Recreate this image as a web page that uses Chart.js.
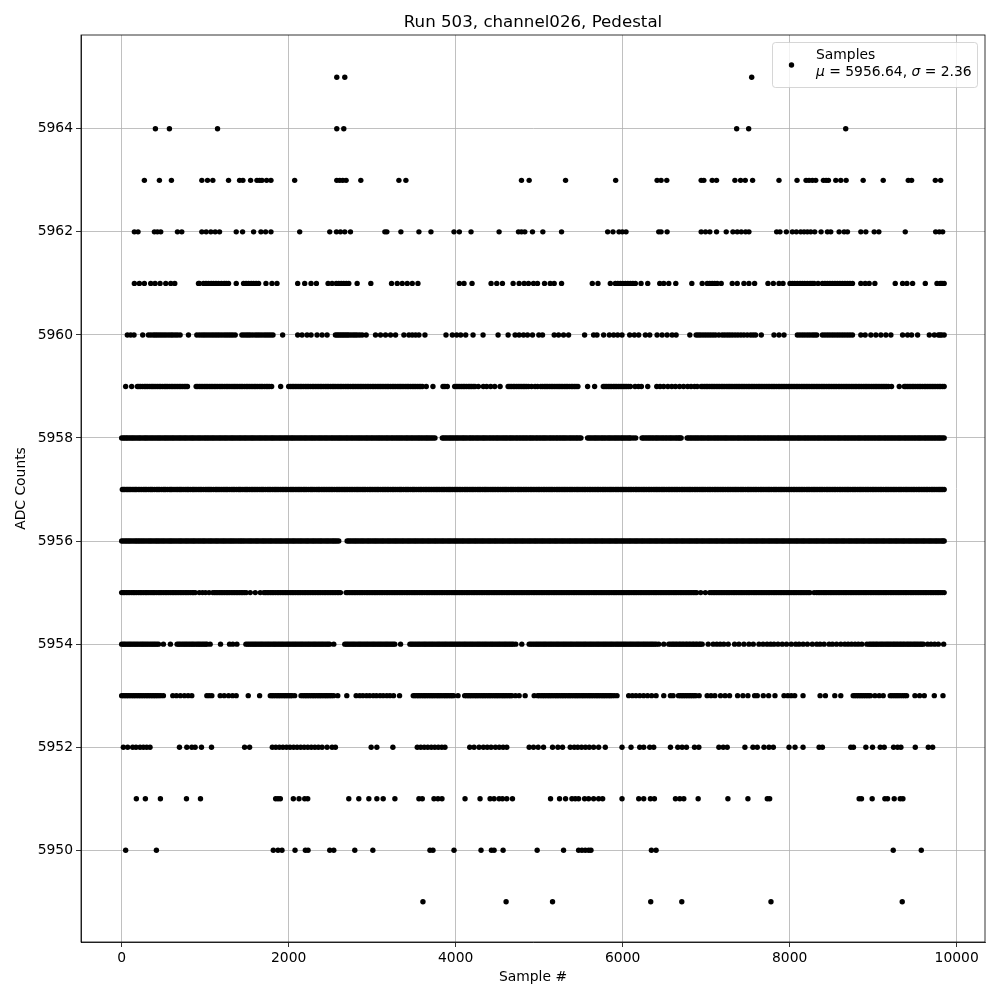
<!DOCTYPE html>
<html>
<head>
<meta charset="utf-8">
<title>Run 503, channel026, Pedestal</title>
<script src="https://cdn.jsdelivr.net/npm/chart.js@4/dist/chart.umd.min.js"></script>
<style>
    body { margin: 0; background: #fff; }
    canvas { display: block; }
</style>
</head>
<body>
<canvas id="pedestalChart" width="1000" height="1000"></canvas>
<script>
/* Pedestal scatter, sample numbers */

const xTickValues = [0, 2000, 4000, 6000, 8000, 10000];
const yTickValues = [5950, 5952, 5954, 5956, 5958, 5960, 5962, 5964];

const samples5965 = [2576, 2672, 7545];
const samples5964 = [404, 572, 1148, 2576, 2660, 7365, 7509, 8671];
const samples5963 = [272, 452, 596, 960, 1028, 1092, 1280, 1412, 1452, 1544, 1620, 1652, 1680, 1736, 1788, 2072, 2576, 2612, 2648, 2688, 2864, 3320, 3404, 4788, 4880, 5316, 5916, 6412, 6460, 6528, 6940, 6972, 7072, 7124, 7344, 7412, 7468, 7556, 7872, 8088, 8196, 8232, 8272, 8312, 8404, 8436, 8464, 8552, 8612, 8676, 8880, 9120, 9420, 9460, 9744, 9808];
const samples5962 = [152, 196, 392, 428, 468, 668, 720, 960, 1012, 1068, 1120, 1172, 1372, 1448, 1580, 1668, 1724, 1788, 2132, 2492, 2572, 2620, 2672, 2740, 3152, 3176, 3344, 3560, 3704, 3980, 4044, 4184, 4520, 4752, 4788, 4828, 4920, 5044, 5268, 5820, 5884, 5956, 5996, 6040, 6432, 6460, 6532, 6940, 6992, 7044, 7124, 7240, 7320, 7372, 7420, 7472, 7512, 7844, 7884, 7960, 8032, 8080, 8132, 8172, 8212, 8252, 8300, 8376, 8452, 8492, 8592, 8652, 8692, 8852, 8912, 9012, 9068, 9384, 9748, 9792, 9832];
const samples5961 = [152, 212, 272, 348, 400, 460, 528, 588, 636, 920, 980, 1040, 1100, 1160, 1228, 1280, 1372, 1460, 1520, 1580, 1640, 1728, 1800, 1860, 2108, 2192, 2268, 2332, 2472, 2520, 2600, 2660, 2720, 2820, 2984, 3232, 3300, 3360, 3420, 3480, 3548, 4044, 4100, 4196, 4424, 4492, 4560, 4688, 4760, 4820, 4872, 4932, 4980, 5064, 5132, 5180, 5268, 5636, 5704, 5852, 5912, 5972, 6032, 6092, 6152, 6220, 6300, 6444, 6492, 6552, 6636, 6828, 6952, 7012, 7072, 7132, 7180, 7312, 7372, 7452, 7512, 7580, 7740, 7804, 7872, 7920, 8004, 8060, 8124, 8180, 8244, 8292, 8340, 8392, 8452, 8512, 8572, 8632, 8692, 8752, 8852, 8904, 8952, 9020, 9264, 9352, 9404, 9472, 9624, 9764, 9804, 9850];
const extra5961 = [930, 1010, 1072, 1130, 1194, 1252, 1490, 1552, 1610, 2570, 2630, 2690, 5942, 6002, 6062, 6122, 7042, 7102, 8032, 8092, 8152, 8212, 8268, 8422, 8482, 8542, 8602, 8662, 8722, 9824];
const samples5960 = [68, 108, 148, 252, 320, 380, 428, 480, 532, 588, 640, 700, 800, 900, 960, 1012, 1068, 1120, 1172, 1228, 1280, 1332, 1360, 1440, 1492, 1540, 1600, 1652, 1708, 1760, 1812, 1928, 2108, 2160, 2220, 2268, 2340, 2400, 2460, 2560, 2600, 2640, 2680, 2720, 2772, 2820, 2880, 2928, 3040, 3100, 3160, 3220, 3280, 3380, 3440, 3480, 3520, 3560, 3632, 3884, 3960, 4012, 4060, 4120, 4208, 4328, 4508, 4628, 4712, 4760, 4812, 4860, 4920, 4996, 5040, 5180, 5232, 5292, 5352, 5544, 5652, 5692, 5772, 5840, 5892, 5940, 5992, 6084, 6140, 6192, 6272, 6324, 6412, 6472, 6532, 6592, 6640, 6804, 6880, 6932, 6992, 7052, 7112, 7192, 7252, 7312, 7380, 7452, 7532, 7592, 7660, 7812, 7872, 7932, 8092, 8152, 8212, 8272, 8324, 8392, 8452, 8512, 8572, 8632, 8692, 8752, 8852, 8904, 8972, 9032, 9092, 9152, 9212, 9352, 9412, 9460, 9532, 9672, 9732, 9780, 9820, 9850];
const extra5960 = [350, 404, 454, 506, 560, 612, 668, 930, 986, 1040, 1094, 1146, 1200, 1254, 1306, 1466, 1516, 1570, 1626, 1680, 1734, 1786, 2580, 2620, 2660, 2700, 2746, 2796, 2850, 6906, 6962, 7022, 7082, 7152, 7222, 7282, 7346, 7416, 7492, 7562, 8122, 8182, 8242, 8298, 8422, 8482, 8542, 8602, 8662, 8722, 9800];
const samples5959 = [48, 120, 188, 226, 271, 309, 352, 388, 431, 469, 513, 548, 592, 629, 671, 709, 752, 788, 892, 931, 972, 1011, 1052, 1091, 1129, 1172, 1209, 1251, 1288, 1332, 1369, 1411, 1448, 1491, 1529, 1571, 1608, 1652, 1687, 1731, 1768, 1796, 1904, 2000, 2041, 2079, 2122, 2158, 2201, 2239, 2282, 2319, 2361, 2398, 2441, 2478, 2521, 2557, 2601, 2638, 2681, 2718, 2762, 2799, 2841, 2878, 2921, 2959, 3002, 3039, 3081, 3119, 3162, 3198, 3241, 3279, 3321, 3359, 3402, 3438, 3481, 3519, 3562, 3601, 3648, 3728, 3848, 3871, 3900, 3988, 4028, 4071, 4109, 4152, 4189, 4231, 4272, 4331, 4371, 4419, 4468, 4532, 4628, 4669, 4708, 4749, 4791, 4829, 4872, 4909, 4951, 4980, 5020, 5062, 5101, 5143, 5181, 5224, 5262, 5303, 5341, 5384, 5422, 5464, 5580, 5664, 5768, 5809, 5848, 5889, 5928, 5969, 6008, 6049, 6092, 6148, 6189, 6224, 6300, 6408, 6448, 6491, 6541, 6588, 6632, 6681, 6729, 6778, 6819, 6861, 6892, 6940, 6981, 7019, 7061, 7099, 7141, 7182, 7219, 7261, 7299, 7342, 7381, 7421, 7459, 7502, 7541, 7579, 7622, 7659, 7701, 7741, 7781, 7819, 7862, 7899, 7941, 7982, 8019, 8061, 8099, 8142, 8181, 8219, 8262, 8301, 8339, 8382, 8419, 8461, 8499, 8541, 8582, 8619, 8662, 8699, 8741, 8782, 8821, 8859, 8902, 8939, 8981, 9022, 9059, 9102, 9141, 9182, 9220, 9312, 9372, 9409, 9451, 9488, 9531, 9569, 9612, 9649, 9691, 9729, 9772, 9808, 9850];
const extra5959 = [207, 248, 290, 330, 370, 410, 450, 491, 530, 570, 610, 650, 690, 731, 770, 911, 951, 992, 1031, 1071, 1110, 1150, 1190, 1230, 1270, 1310, 1350, 1390, 1430, 1470, 1510, 1550, 1590, 1630, 1670, 1710, 1750, 2020, 2060, 2100, 2140, 2180, 2220, 2260, 2300, 2340, 2380, 2420, 2460, 2500, 2540, 2580, 2620, 2660, 2700, 2740, 2780, 2820, 2860, 2900, 2940, 2980, 3020, 3060, 3100, 3140, 3180, 3220, 3260, 3300, 3340, 3380, 3420, 3460, 3500, 3540, 3582, 4008, 4050, 4090, 4130, 4170, 4210, 4650, 4690, 4730, 4770, 4810, 4850, 5040, 5082, 5122, 5162, 5202, 5242, 5282, 5322, 5362, 5402, 5442, 5788, 5828, 5868, 5908, 5948, 5988, 6028, 6070, 6960, 7000, 7040, 7080, 7120, 7160, 7200, 7240, 7280, 7320, 7360, 7400, 7440, 7480, 7520, 7560, 7600, 7640, 7680, 7720, 7760, 7800, 7840, 7880, 7920, 7960, 8000, 8040, 8080, 8120, 8160, 8200, 8240, 8280, 8320, 8360, 8400, 8440, 8480, 8520, 8560, 8600, 8640, 8680, 8720, 8760, 8800, 8840, 8880, 8920, 8960, 9000, 9040, 9080, 9120, 9160, 9390, 9430, 9470, 9510, 9550, 9590, 9630, 9670, 9710, 9750, 9790, 9830];
const samples5958 = [0, 38, 73, 112, 149, 191, 228, 271, 307, 349, 388, 429, 467, 509, 547, 588, 626, 668, 707, 748, 786, 829, 866, 908, 946, 988, 1027, 1068, 1106, 1148, 1187, 1228, 1266, 1309, 1346, 1388, 1427, 1468, 1507, 1549, 1586, 1628, 1667, 1708, 1747, 1789, 1826, 1868, 1907, 1948, 1987, 2029, 2066, 2108, 2148, 2189, 2227, 2268, 2307, 2349, 2387, 2428, 2467, 2509, 2548, 2589, 2627, 2668, 2707, 2748, 2788, 2829, 2867, 2909, 2947, 2988, 3028, 3069, 3107, 3148, 3187, 3229, 3268, 3308, 3347, 3389, 3427, 3468, 3508, 3549, 3587, 3629, 3667, 3708, 3752, 3840, 3879, 3921, 3959, 4001, 4039, 4081, 4119, 4162, 4199, 4241, 4279, 4322, 4359, 4401, 4441, 4482, 4519, 4561, 4601, 4642, 4679, 4722, 4761, 4801, 4841, 4882, 4919, 4962, 5001, 5041, 5079, 5122, 5161, 5202, 5241, 5281, 5319, 5362, 5401, 5442, 5481, 5500, 5580, 5619, 5661, 5699, 5741, 5779, 5822, 5859, 5901, 5941, 5982, 6019, 6062, 6099, 6156, 6232, 6271, 6312, 6351, 6392, 6429, 6471, 6511, 6552, 6589, 6632, 6669, 6700, 6772, 6811, 6852, 6891, 6932, 6971, 7012, 7049, 7092, 7131, 7171, 7212, 7249, 7291, 7331, 7372, 7409, 7452, 7491, 7531, 7571, 7612, 7649, 7692, 7731, 7771, 7811, 7852, 7889, 7932, 7971, 8011, 8051, 8092, 8129, 8172, 8211, 8251, 8291, 8332, 8369, 8412, 8451, 8491, 8531, 8572, 8609, 8652, 8691, 8731, 8771, 8812, 8849, 8892, 8931, 8971, 9011, 9052, 9089, 9132, 9171, 9211, 9251, 9292, 9329, 9372, 9411, 9451, 9491, 9532, 9569, 9612, 9651, 9691, 9731, 9772, 9809, 9850];
const extra5958 = [19, 55, 92, 131, 170, 210, 250, 289, 328, 368, 409, 448, 488, 528, 567, 607, 647, 688, 727, 767, 808, 847, 887, 927, 967, 1008, 1047, 1087, 1127, 1168, 1207, 1247, 1288, 1327, 1367, 1408, 1447, 1487, 1528, 1567, 1607, 1648, 1687, 1727, 1768, 1807, 1847, 1888, 1927, 1967, 2008, 2047, 2087, 2128, 2168, 2207, 2248, 2287, 2327, 2368, 2407, 2447, 2488, 2528, 2568, 2607, 2647, 2688, 2727, 2767, 2808, 2847, 2887, 2928, 2967, 3007, 3048, 3087, 3127, 3168, 3207, 3247, 3288, 3327, 3367, 3408, 3447, 3487, 3528, 3567, 3607, 3648, 3687, 3729, 3859, 3899, 3940, 3979, 4019, 4060, 4099, 4139, 4180, 4219, 4259, 4300, 4339, 4379, 4420, 4460, 4499, 4540, 4580, 4619, 4660, 4699, 4739, 4780, 4820, 4859, 4900, 4939, 4979, 5020, 5059, 5099, 5140, 5180, 5219, 5260, 5299, 5339, 5380, 5420, 5459, 5599, 5640, 5679, 5719, 5760, 5799, 5839, 5880, 5920, 5960, 5999, 6040, 6080, 6127, 6250, 6291, 6330, 6370, 6410, 6450, 6490, 6530, 6570, 6610, 6650, 6685, 6791, 6830, 6871, 6910, 6950, 6990, 7030, 7070, 7110, 7150, 7190, 7230, 7270, 7310, 7350, 7390, 7430, 7470, 7510, 7550, 7590, 7630, 7670, 7710, 7750, 7790, 7830, 7870, 7910, 7950, 7990, 8030, 8070, 8110, 8150, 8190, 8230, 8270, 8310, 8350, 8390, 8430, 8470, 8510, 8550, 8590, 8630, 8670, 8710, 8750, 8790, 8830, 8870, 8910, 8950, 8990, 9030, 9070, 9110, 9150, 9190, 9230, 9270, 9310, 9350, 9390, 9430, 9470, 9510, 9550, 9590, 9630, 9670, 9710, 9750, 9790, 9830];
const samples5957 = [8, 37, 71, 104, 146, 178, 219, 263, 297, 341, 372, 418, 452, 497, 529, 574, 603, 651, 689, 722, 768, 801, 846, 879, 923, 958, 1003, 1041, 1076, 1122, 1155, 1198, 1237, 1271, 1318, 1352, 1396, 1428, 1476, 1509, 1551, 1588, 1627, 1669, 1702, 1748, 1783, 1826, 1861, 1903, 1941, 1978, 2022, 2057, 2099, 2136, 2178, 2213, 2258, 2291, 2337, 2371, 2412, 2451, 2493, 2529, 2572, 2608, 2649, 2687, 2728, 2766, 2807, 2843, 2886, 2921, 2966, 3002, 3044, 3079, 3123, 3161, 3198, 3241, 3276, 3322, 3354, 3398, 3433, 3479, 3512, 3557, 3592, 3634, 3671, 3711, 3752, 3788, 3829, 3866, 3908, 3943, 3987, 4024, 4062, 4105, 4141, 4183, 4219, 4263, 4298, 4341, 4376, 4421, 4458, 4497, 4536, 4578, 4613, 4657, 4691, 4736, 4771, 4812, 4851, 4892, 4928, 4971, 5007, 5049, 5086, 5128, 5163, 5207, 5243, 5284, 5321, 5363, 5399, 5442, 5478, 5521, 5557, 5599, 5636, 5678, 5714, 5757, 5793, 5836, 5872, 5914, 5951, 5992, 6029, 6071, 6108, 6151, 6186, 6229, 6266, 6307, 6344, 6386, 6423, 6465, 6501, 6544, 6581, 6622, 6659, 6702, 6738, 6781, 6817, 6859, 6896, 6938, 6974, 7017, 7053, 7096, 7132, 7174, 7211, 7253, 7291, 7332, 7369, 7411, 7447, 7491, 7526, 7569, 7606, 7648, 7684, 7727, 7763, 7806, 7842, 7884, 7921, 7963, 8001, 8042, 8079, 8121, 8158, 8201, 8237, 8279, 8316, 8358, 8394, 8437, 8473, 8516, 8552, 8594, 8631, 8673, 8709, 8752, 8788, 8831, 8867, 8909, 8946, 8988, 9024, 9067, 9103, 9146, 9182, 9224, 9261, 9303, 9339, 9382, 9418, 9461, 9497, 9539, 9576, 9618, 9654, 9697, 9733, 9776, 9812, 9850];
const extra5957 = [22, 55, 88, 125, 162, 199, 241, 280, 319, 356, 395, 435, 475, 513, 551, 589, 627, 670, 705, 745, 785, 823, 862, 901, 940, 980, 1022, 1058, 1099, 1138, 1176, 1217, 1254, 1295, 1335, 1374, 1412, 1452, 1492, 1530, 1570, 1608, 1648, 1685, 1725, 1765, 1805, 1844, 1882, 1922, 1960, 2000, 2040, 2078, 2118, 2157, 2195, 2235, 2275, 2314, 2354, 2392, 2432, 2472, 2511, 2550, 2590, 2628, 2668, 2707, 2747, 2786, 2825, 2865, 2903, 2944, 2984, 3023, 3061, 3101, 3142, 3180, 3220, 3258, 3299, 3338, 3376, 3416, 3456, 3495, 3535, 3575, 3613, 3652, 3691, 3731, 3770, 3808, 3848, 3887, 3925, 3965, 4005, 4043, 4083, 4123, 4162, 4201, 4241, 4280, 4320, 4358, 4398, 4439, 4477, 4516, 4557, 4595, 4635, 4674, 4713, 4753, 4791, 4831, 4871, 4910, 4949, 4989, 5028, 5067, 5107, 5145, 5185, 5225, 5263, 5302, 5342, 5381, 5420, 5460, 5500, 5539, 5578, 5617, 5657, 5696, 5735, 5775, 5814, 5854, 5893, 5932, 5971, 6010, 6050, 6089, 6129, 6168, 6207, 6247, 6286, 6325, 6365, 6404, 6444, 6483, 6522, 6562, 6601, 6640, 6680, 6720, 6759, 6799, 6838, 6877, 6917, 6956, 6995, 7035, 7074, 7114, 7153, 7192, 7232, 7272, 7311, 7350, 7390, 7429, 7469, 7508, 7547, 7587, 7627, 7666, 7705, 7745, 7784, 7824, 7863, 7902, 7942, 7982, 8021, 8060, 8100, 8139, 8179, 8219, 8258, 8297, 8337, 8376, 8415, 8455, 8494, 8534, 8573, 8612, 8652, 8691, 8730, 8770, 8809, 8849, 8888, 8927, 8967, 9006, 9045, 9085, 9124, 9164, 9203, 9243, 9282, 9321, 9360, 9400, 9440, 9479, 9518, 9557, 9597, 9636, 9676, 9715, 9754, 9794, 9831];
const samples5956 = [0, 41, 79, 118, 161, 199, 238, 279, 321, 359, 401, 438, 479, 518, 561, 598, 639, 681, 718, 761, 799, 841, 878, 921, 961, 998, 1041, 1079, 1121, 1158, 1201, 1239, 1281, 1319, 1358, 1401, 1439, 1478, 1521, 1559, 1601, 1638, 1681, 1719, 1761, 1798, 1841, 1881, 1919, 1961, 1999, 2041, 2078, 2121, 2159, 2201, 2238, 2281, 2319, 2361, 2398, 2441, 2479, 2521, 2558, 2600, 2700, 2739, 2781, 2819, 2861, 2899, 2941, 2979, 3021, 3059, 3101, 3139, 3181, 3219, 3261, 3299, 3341, 3379, 3421, 3459, 3501, 3539, 3581, 3619, 3661, 3699, 3741, 3779, 3821, 3859, 3901, 3939, 3981, 4019, 4061, 4099, 4141, 4179, 4221, 4259, 4301, 4339, 4381, 4419, 4461, 4499, 4541, 4579, 4621, 4659, 4701, 4739, 4781, 4819, 4861, 4899, 4941, 4979, 5021, 5059, 5101, 5139, 5181, 5219, 5261, 5299, 5341, 5379, 5421, 5459, 5501, 5539, 5581, 5619, 5661, 5699, 5741, 5779, 5821, 5859, 5901, 5939, 5981, 6019, 6061, 6099, 6141, 6179, 6221, 6259, 6301, 6339, 6381, 6419, 6461, 6499, 6541, 6579, 6621, 6659, 6701, 6739, 6781, 6819, 6861, 6899, 6941, 6979, 7021, 7059, 7101, 7139, 7181, 7219, 7261, 7299, 7341, 7379, 7421, 7459, 7501, 7539, 7581, 7619, 7661, 7699, 7741, 7779, 7821, 7859, 7901, 7939, 7981, 8019, 8061, 8099, 8141, 8179, 8221, 8259, 8301, 8339, 8381, 8419, 8461, 8499, 8541, 8579, 8621, 8659, 8701, 8739, 8781, 8819, 8861, 8899, 8941, 8979, 9021, 9059, 9101, 9139, 9181, 9219, 9261, 9299, 9341, 9379, 9421, 9459, 9501, 9539, 9581, 9619, 9661, 9699, 9741, 9779, 9821, 9850];
const extra5956 = [20, 60, 98, 140, 180, 218, 258, 300, 340, 380, 420, 458, 498, 540, 580, 618, 660, 700, 740, 780, 820, 860, 900, 940, 980, 1020, 1060, 1100, 1140, 1180, 1220, 1260, 1300, 1338, 1380, 1420, 1458, 1500, 1540, 1580, 1620, 1660, 1700, 1740, 1780, 1820, 1860, 1900, 1940, 1980, 2020, 2060, 2100, 2140, 2180, 2220, 2260, 2300, 2340, 2380, 2420, 2460, 2500, 2540, 2578, 2720, 2760, 2800, 2840, 2880, 2920, 2960, 3000, 3040, 3080, 3120, 3160, 3200, 3240, 3280, 3320, 3360, 3400, 3440, 3480, 3520, 3560, 3600, 3640, 3680, 3720, 3760, 3800, 3840, 3880, 3920, 3960, 4000, 4040, 4080, 4120, 4160, 4200, 4240, 4280, 4320, 4360, 4400, 4440, 4480, 4520, 4560, 4600, 4640, 4680, 4720, 4760, 4800, 4840, 4880, 4920, 4960, 5000, 5040, 5080, 5120, 5160, 5200, 5240, 5280, 5320, 5360, 5400, 5440, 5480, 5520, 5560, 5600, 5640, 5680, 5720, 5760, 5800, 5840, 5880, 5920, 5960, 6000, 6040, 6080, 6120, 6160, 6200, 6240, 6280, 6320, 6360, 6400, 6440, 6480, 6520, 6560, 6600, 6640, 6680, 6720, 6760, 6800, 6840, 6880, 6920, 6960, 7000, 7040, 7080, 7120, 7160, 7200, 7240, 7280, 7320, 7360, 7400, 7440, 7480, 7520, 7560, 7600, 7640, 7680, 7720, 7760, 7800, 7840, 7880, 7920, 7960, 8000, 8040, 8080, 8120, 8160, 8200, 8240, 8280, 8320, 8360, 8400, 8440, 8480, 8520, 8560, 8600, 8640, 8680, 8720, 8760, 8800, 8840, 8880, 8920, 8960, 9000, 9040, 9080, 9120, 9160, 9200, 9240, 9280, 9320, 9360, 9400, 9440, 9480, 9520, 9560, 9600, 9640, 9680, 9720, 9760, 9800, 9836];
const samples5955 = [0, 36, 77, 121, 158, 203, 241, 283, 318, 362, 397, 443, 479, 521, 561, 604, 641, 683, 721, 763, 802, 846, 881, 930, 968, 1004, 1047, 1092, 1131, 1174, 1212, 1253, 1291, 1333, 1372, 1413, 1451, 1492, 1540, 1600, 1660, 1704, 1742, 1783, 1821, 1864, 1903, 1943, 1981, 2024, 2062, 2103, 2141, 2184, 2222, 2263, 2302, 2343, 2381, 2424, 2462, 2503, 2542, 2583, 2620, 2688, 2726, 2768, 2806, 2848, 2886, 2928, 2966, 3008, 3046, 3088, 3126, 3168, 3206, 3248, 3286, 3328, 3366, 3408, 3446, 3488, 3526, 3568, 3606, 3648, 3686, 3728, 3766, 3808, 3846, 3888, 3926, 3968, 4006, 4048, 4086, 4128, 4166, 4208, 4246, 4288, 4326, 4368, 4406, 4448, 4486, 4528, 4566, 4608, 4646, 4688, 4726, 4768, 4806, 4848, 4886, 4928, 4966, 5008, 5046, 5088, 5126, 5168, 5206, 5248, 5286, 5328, 5366, 5408, 5446, 5488, 5526, 5568, 5606, 5648, 5686, 5728, 5766, 5808, 5846, 5888, 5926, 5968, 6006, 6048, 6086, 6128, 6166, 6208, 6246, 6288, 6326, 6368, 6406, 6448, 6486, 6528, 6566, 6608, 6646, 6688, 6726, 6768, 6806, 6848, 6886, 6935, 6990, 7042, 7084, 7122, 7164, 7202, 7244, 7282, 7324, 7362, 7404, 7442, 7484, 7522, 7564, 7602, 7644, 7682, 7724, 7762, 7804, 7842, 7884, 7922, 7964, 8002, 8044, 8082, 8124, 8162, 8204, 8242, 8292, 8320, 8362, 8404, 8442, 8484, 8522, 8564, 8602, 8644, 8682, 8724, 8762, 8804, 8842, 8884, 8922, 8964, 9002, 9044, 9082, 9124, 9162, 9204, 9242, 9284, 9322, 9364, 9402, 9444, 9482, 9524, 9562, 9604, 9642, 9684, 9722, 9764, 9802, 9850];
const extra5955 = [18, 57, 98, 140, 180, 222, 262, 300, 340, 380, 420, 460, 500, 541, 582, 622, 662, 702, 742, 782, 824, 862, 1112, 1152, 1192, 1232, 1272, 1312, 1352, 1392, 1432, 1472, 1722, 1762, 1802, 1842, 1882, 1922, 1962, 2002, 2042, 2082, 2122, 2162, 2202, 2242, 2282, 2322, 2362, 2402, 2442, 2482, 2522, 2562, 2600, 2707, 2747, 2787, 2827, 2867, 2907, 2947, 2987, 3027, 3067, 3107, 3147, 3187, 3227, 3267, 3307, 3347, 3387, 3427, 3467, 3507, 3547, 3587, 3627, 3667, 3707, 3747, 3787, 3827, 3867, 3907, 3947, 3987, 4027, 4067, 4107, 4147, 4187, 4227, 4267, 4307, 4347, 4387, 4427, 4467, 4507, 4547, 4587, 4627, 4667, 4707, 4747, 4787, 4827, 4867, 4907, 4947, 4987, 5027, 5067, 5107, 5147, 5187, 5227, 5267, 5307, 5347, 5387, 5427, 5467, 5507, 5547, 5587, 5627, 5667, 5707, 5747, 5787, 5827, 5867, 5907, 5947, 5987, 6027, 6067, 6107, 6147, 6187, 6227, 6267, 6307, 6347, 6387, 6427, 6467, 6507, 6547, 6587, 6627, 6667, 6707, 6747, 6787, 6827, 6867, 7063, 7103, 7143, 7183, 7223, 7263, 7303, 7343, 7383, 7423, 7463, 7503, 7543, 7583, 7623, 7663, 7703, 7743, 7783, 7823, 7863, 7903, 7943, 7983, 8023, 8063, 8103, 8143, 8183, 8223, 8341, 8383, 8423, 8463, 8503, 8543, 8583, 8623, 8663, 8703, 8743, 8783, 8823, 8863, 8903, 8943, 8983, 9023, 9063, 9103, 9143, 9183, 9223, 9263, 9303, 9343, 9383, 9423, 9463, 9503, 9543, 9583, 9623, 9663, 9703, 9743, 9783, 9825];
const samples5954 = [0, 38, 79, 117, 158, 198, 240, 278, 318, 360, 399, 441, 500, 584, 664, 702, 744, 783, 824, 862, 905, 943, 984, 1022, 1060, 1184, 1292, 1331, 1380, 1488, 1531, 1572, 1611, 1653, 1691, 1732, 1771, 1813, 1851, 1892, 1931, 1973, 2011, 2052, 2091, 2133, 2171, 2212, 2251, 2293, 2331, 2372, 2411, 2453, 2491, 2540, 2672, 2711, 2752, 2791, 2833, 2871, 2912, 2951, 2993, 3031, 3072, 3111, 3153, 3191, 3232, 3271, 3340, 3452, 3491, 3532, 3571, 3613, 3651, 3692, 3731, 3773, 3811, 3852, 3891, 3933, 3971, 4012, 4051, 4093, 4131, 4172, 4211, 4253, 4291, 4332, 4371, 4413, 4451, 4492, 4531, 4573, 4611, 4652, 4691, 4720, 4792, 4880, 4921, 4963, 5002, 5043, 5081, 5123, 5162, 5203, 5241, 5283, 5322, 5363, 5401, 5443, 5482, 5523, 5561, 5603, 5642, 5683, 5721, 5763, 5802, 5843, 5881, 5923, 5962, 6003, 6041, 6083, 6122, 6163, 6201, 6243, 6282, 6323, 6361, 6403, 6432, 6492, 6552, 6594, 6633, 6675, 6714, 6756, 6795, 6837, 6876, 6918, 6952, 7024, 7084, 7127, 7168, 7211, 7264, 7340, 7392, 7452, 7512, 7564, 7632, 7681, 7729, 7772, 7812, 7860, 7911, 7962, 8019, 8072, 8112, 8161, 8212, 8271, 8324, 8364, 8412, 8472, 8512, 8561, 8612, 8660, 8700, 8741, 8783, 8822, 8864, 8924, 8952, 8993, 9034, 9076, 9115, 9157, 9196, 9238, 9277, 9319, 9358, 9400, 9439, 9481, 9520, 9562, 9601, 9652, 9692, 9736, 9780, 9844];
const extra5954 = [20, 58, 98, 138, 178, 220, 258, 298, 340, 380, 420, 684, 724, 764, 804, 844, 884, 924, 964, 1004, 1510, 1552, 1592, 1632, 1672, 1712, 1752, 1792, 1832, 1872, 1912, 1952, 1992, 2032, 2072, 2112, 2152, 2192, 2232, 2272, 2312, 2352, 2392, 2432, 2472, 2692, 2732, 2772, 2812, 2852, 2892, 2932, 2972, 3012, 3052, 3092, 3132, 3172, 3212, 3252, 3472, 3512, 3552, 3592, 3632, 3672, 3712, 3752, 3792, 3832, 3872, 3912, 3952, 3992, 4032, 4072, 4112, 4152, 4192, 4232, 4272, 4312, 4352, 4392, 4432, 4472, 4512, 4552, 4592, 4632, 4672, 4900, 4942, 4982, 5022, 5062, 5102, 5142, 5182, 5222, 5262, 5302, 5342, 5382, 5422, 5462, 5502, 5542, 5582, 5622, 5662, 5702, 5742, 5782, 5822, 5862, 5902, 5942, 5982, 6022, 6062, 6102, 6142, 6182, 6222, 6262, 6302, 6342, 6382, 6572, 6612, 6652, 6692, 6732, 6772, 6812, 6852, 6892, 6932, 8972, 9012, 9052, 9096, 9136, 9176, 9216, 9256, 9296, 9336, 9376, 9418, 9458, 9500, 9540, 9580];
const samples5953 = [0, 40, 79, 122, 161, 203, 242, 284, 323, 365, 404, 446, 500, 612, 656, 703, 751, 796, 840, 1020, 1048, 1080, 1180, 1228, 1280, 1328, 1372, 1516, 1652, 1780, 1818, 1861, 1899, 1942, 1980, 2023, 2072, 2148, 2191, 2229, 2272, 2310, 2353, 2391, 2434, 2472, 2515, 2588, 2696, 2808, 2851, 2889, 2932, 2970, 3013, 3051, 3094, 3132, 3175, 3213, 3256, 3328, 3492, 3533, 3571, 3614, 3652, 3695, 3733, 3776, 3814, 3857, 3895, 3938, 3976, 4028, 4108, 4149, 4187, 4230, 4268, 4311, 4349, 4392, 4430, 4473, 4511, 4554, 4592, 4635, 4673, 4716, 4760, 4832, 4940, 4982, 5024, 5063, 5106, 5144, 5187, 5225, 5268, 5306, 5349, 5387, 5430, 5468, 5511, 5549, 5592, 5630, 5673, 5711, 5754, 5792, 5835, 5873, 5932, 6072, 6116, 6159, 6204, 6251, 6298, 6347, 6400, 6492, 6572, 6604, 6668, 6711, 6752, 6794, 6835, 6877, 6916, 7012, 7058, 7104, 7172, 7226, 7280, 7376, 7440, 7500, 7580, 7612, 7684, 7748, 7824, 7932, 7978, 8019, 8060, 8160, 8364, 8428, 8540, 8612, 8760, 8802, 8844, 8885, 8927, 8968, 9021, 9072, 9120, 9204, 9251, 9297, 9350, 9400, 9500, 9556, 9612, 9732, 9836];
const extra5953 = [20, 60, 100, 142, 182, 222, 262, 304, 344, 384, 424, 470, 1800, 1840, 1880, 1920, 1960, 2002, 2040, 2170, 2210, 2250, 2292, 2332, 2372, 2412, 2452, 2494, 2540, 3510, 3552, 3592, 3632, 3674, 3714, 3754, 3794, 3834, 3876, 3916, 3956, 4128, 4168, 4208, 4248, 4290, 4330, 4370, 4410, 4452, 4492, 4532, 4572, 4612, 4654, 5000, 5044, 5084, 5124, 5164, 5206, 5246, 5286, 5326, 5366, 5408, 5448, 5488, 5528, 5570, 5610, 5650, 5692, 5732, 5772, 5812, 5852, 5900, 6690, 6730, 6772, 6814, 6856, 8780, 8822, 8864, 8906, 8948, 9226, 9274, 9322, 9376];
const samples5952 = [20, 72, 132, 172, 220, 260, 300, 340, 692, 780, 840, 880, 956, 1076, 1472, 1532, 1804, 1846, 1889, 1931, 1974, 2016, 2059, 2101, 2144, 2186, 2229, 2271, 2314, 2356, 2400, 2460, 2520, 2560, 2988, 3056, 3248, 3540, 3582, 3624, 3666, 3708, 3750, 3792, 3834, 3872, 4168, 4220, 4280, 4332, 4378, 4424, 4476, 4522, 4568, 4612, 4880, 4932, 4988, 5052, 5160, 5224, 5280, 5372, 5420, 5462, 5508, 5554, 5600, 5652, 5712, 5792, 5992, 6100, 6204, 6252, 6324, 6372, 6572, 6660, 6712, 6764, 6860, 6912, 7152, 7204, 7252, 7464, 7560, 7612, 7692, 7752, 7804, 7992, 8064, 8160, 8352, 8392, 8732, 8764, 8912, 8992, 9084, 9132, 9244, 9292, 9332, 9504, 9660, 9712];
const samples5951 = [176, 284, 464, 776, 944, 1844, 1872, 1900, 2056, 2124, 2192, 2228, 2720, 2840, 2960, 3056, 3132, 3272, 3560, 3600, 3740, 3788, 3836, 4112, 4292, 4412, 4460, 4520, 4560, 4612, 4680, 5136, 5244, 5316, 5392, 5432, 5472, 5544, 5592, 5652, 5712, 5760, 5992, 6192, 6252, 6332, 6380, 6632, 6684, 6732, 6904, 7260, 7500, 7732, 7760, 8832, 8860, 8988, 9140, 9172, 9252, 9324, 9356];
const samples5950 = [48, 416, 1816, 1872, 1920, 2076, 2200, 2232, 2492, 2540, 2792, 3008, 3692, 3728, 3980, 4304, 4428, 4460, 4568, 4976, 5292, 5472, 5512, 5552, 5592, 5620, 6344, 6400, 9240, 9576];
const samples5949 = [3608, 4604, 5160, 6336, 6708, 7776, 9348];

const adcLevels = [5949, 5950, 5951, 5952, 5953, 5954, 5955, 5956, 5957, 5958, 5959, 5960, 5961, 5962, 5963, 5964, 5965];
const samplesByLevel = [
    samples5949, samples5950, samples5951, samples5952,
    samples5953.concat(extra5953), samples5954.concat(extra5954),
    samples5955.concat(extra5955), samples5956.concat(extra5956),
    samples5957.concat(extra5957), samples5958.concat(extra5958),
    samples5959.concat(extra5959), samples5960.concat(extra5960),
    samples5961.concat(extra5961), samples5962, samples5963, samples5964, samples5965
];

const points = [];
adcLevels.forEach((level, i) => {
    samplesByLevel[i].forEach(sample => points.push({ x: sample, y: level }));
});

const FONT = '"DejaVu Sans", sans-serif';
const POINT_RADIUS = 2.7;

// top and right spines, plus the matplotlib style legend box
const frameAndLegend = {
    id: 'frameAndLegend',
    afterDraw(chart) {
        const { ctx, chartArea: a } = chart;
        ctx.save();
        ctx.strokeStyle = '#000';
        ctx.lineWidth = 0.8;
        ctx.strokeRect(a.left, a.top, a.right - a.left, a.bottom - a.top);

        ctx.fillStyle = 'rgba(255,255,255,0.8)';
        ctx.strokeStyle = 'rgba(204,204,204,0.8)';
        ctx.lineWidth = 1;
        ctx.beginPath();
        ctx.roundRect(772.5, 42.5, 205, 45, 3);
        ctx.fill();
        ctx.stroke();

        ctx.fillStyle = '#000';
        ctx.beginPath();
        ctx.arc(791.5, 65, POINT_RADIUS, 0, Math.PI * 2);
        ctx.fill();

        ctx.textBaseline = 'alphabetic';
        ctx.textAlign = 'left';
        const regular = `13.89px ${FONT}`;
        const italic = `italic 13.89px ${FONT}`;
        ctx.font = regular;
        ctx.fillText('Samples', 816, 59);
        let x = 816;
        [['μ', italic], [' = 5956.64, ', regular], ['σ', italic], [' = 2.36', regular]].forEach(([text, font]) => {
            ctx.font = font;
            ctx.fillText(text, x, 76);
            x += ctx.measureText(text).width;
        });
        ctx.restore();
    }
};

new Chart(document.getElementById('pedestalChart'), {
    type: 'scatter',
    data: {
        datasets: [{
            label: 'Samples',
            data: points,
            backgroundColor: '#000',
            borderWidth: 0,
            pointRadius: POINT_RADIUS,
            pointHoverRadius: POINT_RADIUS
        }]
    },
    options: {
        responsive: false,
        animation: false,
        layout: { padding: { right: 15 } },
        plugins: {
            legend: { display: false },
            tooltip: { enabled: false },
            title: {
                display: true,
                fullSize: false,
                text: 'Run 503, channel026, Pedestal',
                color: '#000',
                font: { family: FONT, size: 16.67, weight: 'normal', lineHeight: 1.2 },
                padding: { top: 13, bottom: 2 }
            }
        },
        scales: {
            x: {
                type: 'linear',
                min: -487,
                max: 10339,
                afterBuildTicks: scale => { scale.ticks = xTickValues.map(value => ({ value })); },
                afterFit: scale => { scale.height = 58; },
                title: {
                    display: true,
                    text: 'Sample #',
                    color: '#000',
                    font: { family: FONT, size: 13.89 },
                    padding: { top: 0, bottom: 14 }
                },
                ticks: {
                    color: '#000',
                    font: { family: FONT, size: 13.89 },
                    maxRotation: 0,
                    autoSkip: false,
                    padding: 3,
                    callback: v => String(v)
                },
                grid: { color: '#b0b0b0', lineWidth: 0.8, tickColor: '#000', tickWidth: 0.8, tickLength: 5 },
                border: { color: '#000', width: 0.8 }
            },
            y: {
                type: 'linear',
                min: 5948.22,
                max: 5965.82,
                afterBuildTicks: scale => { scale.ticks = yTickValues.map(value => ({ value })); },
                afterFit: scale => { scale.width = 81; },
                title: {
                    display: true,
                    text: 'ADC Counts',
                    color: '#000',
                    font: { family: FONT, size: 13.89 },
                    padding: { top: 13, bottom: 0 }
                },
                ticks: {
                    color: '#000',
                    font: { family: FONT, size: 13.89 },
                    autoSkip: false,
                    padding: 3,
                    callback: v => String(v)
                },
                grid: { color: '#b0b0b0', lineWidth: 0.8, tickColor: '#000', tickWidth: 0.8, tickLength: 5 },
                border: { color: '#000', width: 0.8 }
            }
        }
    },
    plugins: [frameAndLegend]
});
</script>
</body>
</html>
